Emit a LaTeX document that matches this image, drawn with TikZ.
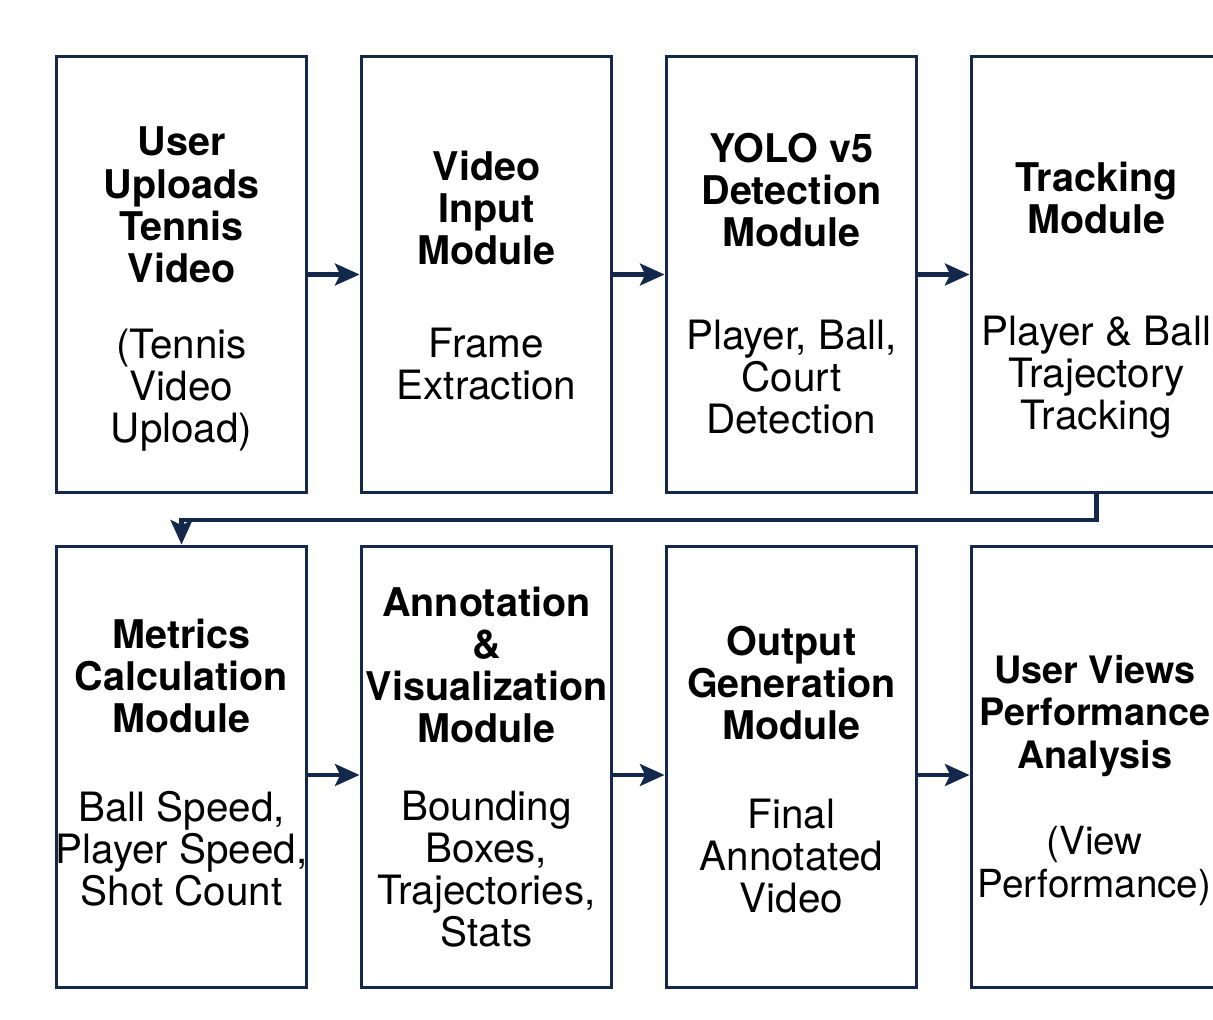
\documentclass[tikz,border=0pt]{standalone}
\usepackage{fontspec}
\setmainfont{TeX Gyre Heros}
\usetikzlibrary{arrows.meta}
\definecolor{navy}{RGB}{20,40,75}
\begin{document}
\begin{tikzpicture}[x=0.02cm,y=-0.02cm,
  stage/.style={draw=navy, line width=1.7pt, minimum width=5.02cm, inner sep=0pt},
  toprow/.style={stage, minimum height=8.74cm},
  botrow/.style={stage, minimum height=8.84cm},
  ttl/.style={font=\fontsize{22.5}{24}\selectfont\bfseries, align=center, inner sep=0pt},
  bdy/.style={font=\fontsize{23}{24}\selectfont, align=center, inner sep=0pt},
  flow/.style={draw=navy, line width=2.3pt, -{Stealth[length=14pt,width=12.5pt,inset=3pt]}}]
\useasboundingbox (0,0) rectangle (1213,1020);
\clip (0,0) rectangle (1213,1020);
\fill[white] (0,0) rectangle (1213,1020);

% first row
\node[toprow] (b1) at (181.5,274.5) {};
\node[toprow] (b2) at (486.5,274.5) {};
\node[toprow] (b3) at (791.5,274.5) {};
\node[toprow] (b4) at (1096.5,274.5) {};
% second row
\node[botrow] (b5) at (181.5,767) {};
\node[botrow] (b6) at (486.5,767) {};
\node[botrow] (b7) at (791.5,767) {};
\node[botrow] (b8) at (1096.5,767) {};

% labels
\node[ttl] (t1) at (181.5,205) {User\\Uploads\\Tennis\\Video};
\node[bdy] (s1) at (181.5,390) {(Tennis\\Video\\Upload)};
\node[ttl] (t2) at (486.5,208) {Video\\Input\\Module};
\node[bdy] (s2) at (486.5,364) {Frame\\Extraction};
\node[ttl] (t3) at (791.5,190) {YOLO v5\\Detection\\Module};
\node[bdy] (s3) at (791.5,377) {Player, Ball,\\Court\\Detection};
\node[ttl] (t4) at (1096.5,198) {Tracking\\Module};
\node[bdy] (s4) at (1096.5,377) {Player \& Ball\\Trajectory\\Tracking};

\node[ttl] (t5) at (181.5,676) {Metrics\\Calculation\\Module};
\node[bdy] (s5) at (181.5,849) {Ball Speed,\\Player Speed,\\Shot Count};
\node[ttl] (t6) at (486.5,665) {Annotation\\\&\\Visualization\\Module};
\node[bdy] (s6) at (486.5,869) {Bounding\\Boxes,\\Trajectories,\\Stats};
\node[ttl] (t7) at (791.5,683) {Output\\Generation\\Module};
\node[bdy] (s7) at (791.5,856) {Final\\Annotated\\Video};
\node[ttl, font=\fontsize{21.5}{24}\selectfont\bfseries] (t8) at (1095,716) {User Views\\Performance\\Analysis};
\node[bdy, font=\fontsize{22}{24}\selectfont] (s8) at (1094.5,866) {(View\\Performance)};

% connectors
\draw[flow] (b1.east) -- (b2.west);
\draw[flow] (b2.east) -- (b3.west);
\draw[flow] (b3.east) -- (b4.west);
\draw[flow] (b4.south) -- ++(0,26) -| (b5.north);
\draw[flow] ([yshift=-0.16cm]b5.east) -- ([yshift=-0.16cm]b6.west);
\draw[flow] ([yshift=-0.16cm]b6.east) -- ([yshift=-0.16cm]b7.west);
\draw[flow] ([yshift=-0.16cm]b7.east) -- ([yshift=-0.16cm]b8.west);
\end{tikzpicture}
\end{document}
